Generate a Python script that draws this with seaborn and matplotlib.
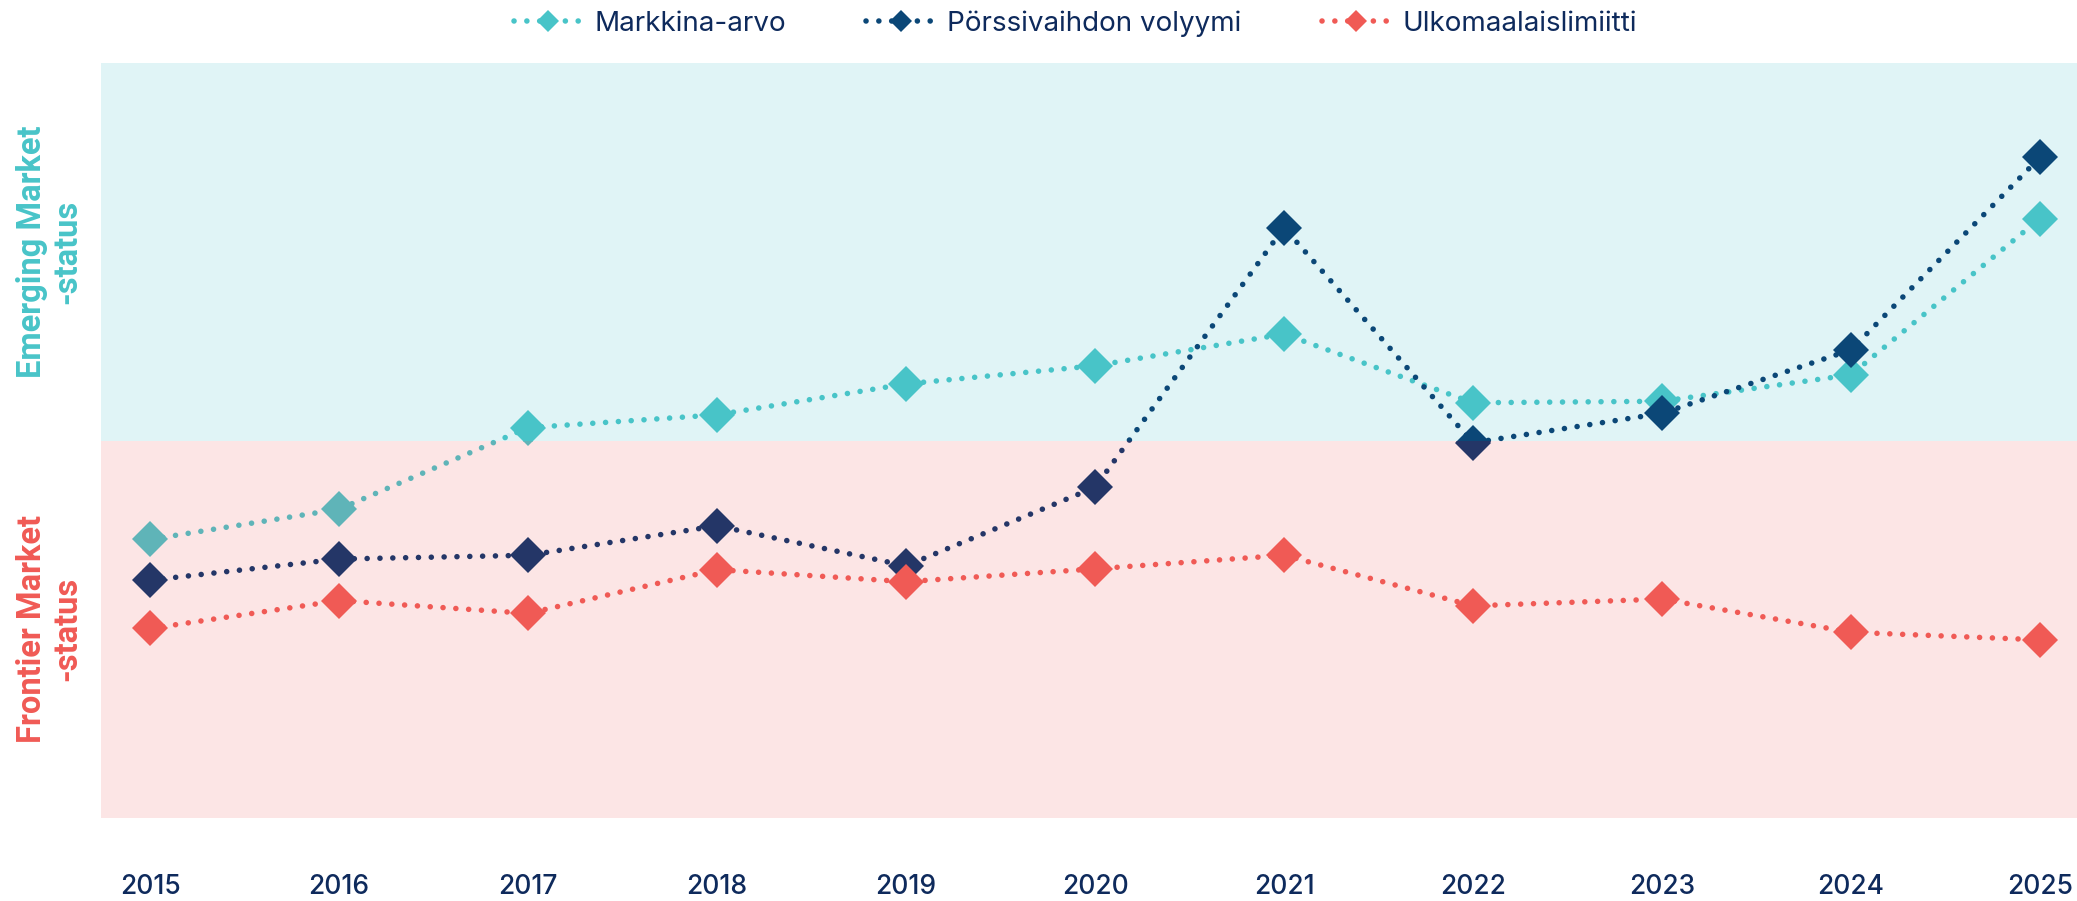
import numpy as np
import pandas as pd
import seaborn as sns
from matplotlib import pyplot as plt
from matplotlib.lines import Line2D
from matplotlib.patches import Rectangle

# values, 0..100 scale: 0-50 = Frontier band, 50-100 = Emerging band
years = [2015, 2016, 2017, 2018, 2019, 2020, 2021, 2022, 2023, 2024, 2025]
markkina_arvo = [36.9, 40.9, 51.7, 53.4, 57.5, 59.9, 64.1, 55.0, 55.2, 58.7, 79.4]
porssivaihdon_volyymi = [31.5, 34.3, 34.8, 38.7, 33.4, 43.8, 78.2, 49.7, 53.6, 62.0, 87.5]
ulkomaalaislimiitti = [25.1, 28.8, 27.1, 32.9, 31.3, 33.0, 34.8, 28.1, 29.0, 24.6, 23.6]
series_names = ['Markkina-arvo', 'Pörssivaihdon volyymi', 'Ulkomaalaislimiitti']
band_labels = ['Emerging Market\n-status', 'Frontier Market\n-status']

colors_top = ['#48C4C8', '#0B4777', '#F05A55']
colors_bottom = ['#5FB4B8', '#243667', '#F05A55']
text_navy = '#0E2A5C'

df = pd.DataFrame({
    'vuosi': years * 3,
    'arvo': markkina_arvo + porssivaihdon_volyymi + ulkomaalaislimiitti,
    'sarja': np.repeat(series_names, len(years)),
})

sns.set_style('white')
plt.rcParams['font.family'] = ['Inter', 'DejaVu Sans']

W, H = 2077, 901
fig = plt.figure(figsize=(W / 100, H / 100), dpi=100)
ax = fig.add_axes([101 / W, 1 - 818 / H, 1976 / W, 755 / H])

ax.axhspan(50, 100, color='#E0F4F6', lw=0, zorder=0)
ax.axhspan(0, 50, color='#FCE5E5', lw=0, zorder=0)

dot = (0, (0.01, 2.3))
for i, name in enumerate(series_names):
    sub = df[df['sarja'] == name]
    # same series drawn twice, each copy clipped to one band (colour shifts in the pink band)
    for col, y0 in ((colors_top[i], 0.5), (colors_bottom[i], 0.0)):
        n = len(ax.lines)
        sns.lineplot(data=sub, x='vuosi', y='arvo', ax=ax, color=col,
                     marker='D', markersize=18, markeredgewidth=0,
                     linewidth=4, linestyle=dot, dash_capstyle='round',
                     legend=False, zorder=3 + i)
        clip = Rectangle((0, y0), 1, 0.5, transform=ax.transAxes)
        for ln in ax.lines[n:]:
            ln.set_clip_path(clip)

ax.set_xlim(2014.74, 2025.196)
ax.set_ylim(0, 100)
ax.set_xticks(years)
ax.set_xticklabels([str(y) for y in years], fontsize=19, color=text_navy,
                   fontweight='medium')
ax.set_yticks([])
ax.tick_params(axis='x', length=0, pad=40)
ax.set_xlabel('')
ax.set_ylabel('')
for s in ax.spines.values():
    s.set_visible(False)

ax.text(-0.026, 0.75, band_labels[0], transform=ax.transAxes, rotation=90,
        ha='center', va='center', multialignment='center', color='#48C4C8',
        fontsize=23.5, fontweight='bold', family='Roboto', linespacing=1.15)
ax.text(-0.026, 0.25, band_labels[1], transform=ax.transAxes, rotation=90,
        ha='center', va='center', multialignment='center', color='#F05A55',
        fontsize=23.5, fontweight='bold', family='Roboto', linespacing=1.15)

handles = [Line2D([], [], color=c, linestyle=dot, linewidth=4, dash_capstyle='round',
                  marker='D', markersize=11, markeredgewidth=0) for c in colors_top]
leg = ax.legend(handles, series_names, loc='center', bbox_to_anchor=(0.493, 1.052),
                ncol=3, frameon=False, fontsize=20, handlelength=2.5,
                handletextpad=0.4, columnspacing=2.9, labelcolor=text_navy)

fig.savefig('out.png', dpi=100)
